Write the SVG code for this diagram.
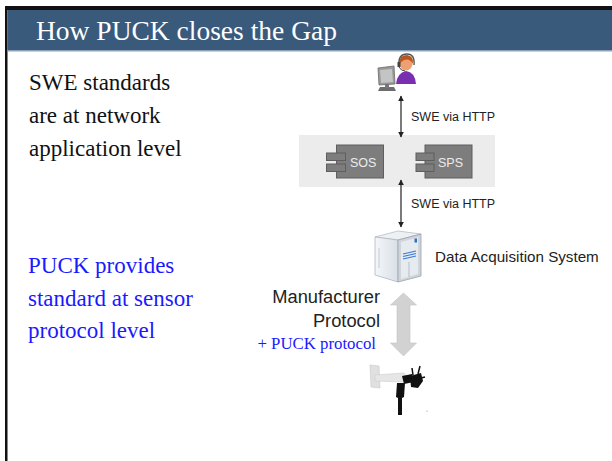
<svg xmlns="http://www.w3.org/2000/svg" width="612" height="461" viewBox="0 0 612 461">
  <style>
    .title { font-family: "Liberation Serif", "Times New Roman", serif; font-size: 27.5px; fill: #ffffff; }
    .body { font-family: "Liberation Serif", "Times New Roman", serif; font-size: 23px; fill: #111111; }
    .blue { fill: #1a1aff; }
    .lbl { font-family: "Liberation Sans", Arial, sans-serif; font-size: 12.5px; fill: #222222; }
    .big { font-family: "Liberation Sans", Arial, sans-serif; font-size: 18.3px; fill: #222222; }
    .das { font-family: "Liberation Sans", Arial, sans-serif; font-size: 15.2px; fill: #222222; }
    .comp { fill: #7d7d7d; stroke: #5e5e5e; stroke-width: 1; }
    .ctext { font-family: "Liberation Sans", Arial, sans-serif; font-size: 12.5px; fill: #ececec; }
    .link { stroke: #222222; stroke-width: 1.2; fill: none; marker-start: url(#head); marker-end: url(#head); }
  </style>
  <defs>
    <marker id="head" viewBox="0 0 10 10" refX="9" refY="5" markerWidth="6" markerHeight="8" orient="auto-start-reverse" markerUnits="userSpaceOnUse">
      <path d="M0,0 L10,5 L0,10 Z" fill="#222222"/>
    </marker>
    <linearGradient id="srvSide" x1="0" y1="0" x2="1" y2="0">
      <stop offset="0" stop-color="#f4f7fa"/>
      <stop offset="1" stop-color="#d9dfe6"/>
    </linearGradient>
  </defs>

  <!-- slide frame and header bar -->
  <rect x="0" y="0" width="612" height="461" fill="#ffffff"/>
  <rect x="5" y="6" width="607" height="4" fill="#111111"/>
  <rect x="5" y="6" width="2.5" height="455" fill="#111111"/>
  <rect x="7.5" y="10" width="604.5" height="40" fill="#3a5a7c"/>
  <rect x="7.5" y="50" width="604.5" height="1.5" fill="#8ca2b8"/>
  <text class="title" x="36" y="40">How PUCK closes the Gap</text>

  <!-- left-hand notes -->
  <g id="notes">
    <text class="body" x="29" y="90">SWE standards</text>
    <text class="body" x="29" y="123">are at network</text>
    <text class="body" x="29" y="156">application level</text>
    <text class="body blue" x="28" y="273">PUCK provides</text>
    <text class="body blue" x="28" y="306">standard at sensor</text>
    <text class="body blue" x="28" y="338">protocol level</text>
  </g>

  <!-- operator at workstation -->
  <g id="user">
    <path d="M380,87 L394,87 L396,91 L378,91 Z" fill="#6d6d6d"/>
    <rect x="385" y="82" width="4" height="6" fill="#777777"/>
    <path d="M378,68 L394,66 L395,84 L379,85 Z" fill="#9a9a9a" stroke="#6a6a6a" stroke-width="0.8"/>
    <path d="M380,70 L392,69 L393,82 L381,83 Z" fill="#c4c4c4"/>
    <path d="M396,84 Q397,73 406,71 Q415,72 416,84 Z" fill="#7a2fb0"/>
    <circle cx="406" cy="64" r="6.5" fill="#f0a070"/>
    <path d="M399,64 Q399,55 407,55 Q414,56 413,64 Q410,58 404,60 Q401,62 399,64 Z" fill="#b8561e"/>
    <path d="M399,65 Q398,54 407,54 Q415,54 414,65" fill="none" stroke="#555555" stroke-width="1.4"/>
    <rect x="397.5" y="62" width="3" height="5" fill="#444444"/>
    <path d="M399,67 Q401,71 405,71" fill="none" stroke="#444444" stroke-width="1"/>
  </g>

  <!-- service container with SOS and SPS -->
  <g id="services">
    <rect x="299" y="135" width="196" height="52" fill="#ececec"/>
  </g>
  <g id="sos">
    <rect class="comp" x="336.5" y="145" width="47" height="33"/>
    <rect class="comp" x="326.5" y="153" width="19" height="7.5"/>
    <rect class="comp" x="326.5" y="164" width="19" height="7.5"/>
    <text class="ctext" x="350" y="166.5">SOS</text>
  </g>
  <g id="sps">
    <rect class="comp" x="425" y="145" width="47" height="33"/>
    <rect class="comp" x="416" y="153" width="18" height="7.5"/>
    <rect class="comp" x="416" y="164" width="18" height="7.5"/>
    <text class="ctext" x="438" y="166.5">SPS</text>
  </g>

  <!-- data acquisition server -->
  <g id="das">
    <path d="M375,237 L398,231 L421,234 L398,240 Z" fill="#eef1f4" stroke="#b8bec6" stroke-width="0.8"/>
    <path d="M375,237 L398,240 L398,282 L375,275 Z" fill="url(#srvSide)" stroke="#b0b6bf" stroke-width="0.8"/>
    <path d="M398,240 L421,234 L421,276 L398,282 Z" fill="#d0d5dc" stroke="#9aa1aa" stroke-width="0.8"/>
    <path d="M401,242 L418,237.5 L418,274 L401,279 Z" fill="#e6ebf0"/>
    <rect x="414.5" y="238.5" width="2.5" height="4" fill="#2f6fbf"/>
    <path d="M403,254 L416,251 M403,256.5 L416,253.5 M403,259 L416,256" stroke="#3a7bd5" stroke-width="1.2"/>
    <path d="M409,262 L409,277" stroke="#aab1ba" stroke-width="0.8"/>
    <path d="M379,248 L379,268" stroke="#c7ccd3" stroke-width="1"/>
    <text class="das" x="435" y="262">Data Acquisition System</text>
  </g>

  <!-- anemometer / wind vane sensor -->
  <g id="sensor">
    <path d="M370,365 L379,366 L380,388 L371,387 Z" fill="#e0e0e0" stroke="#c8c8c8" stroke-width="0.6"/>
    <path d="M375,375 L404,373 L408,378 L404,382 L375,381 Z" fill="#e6e6e6" stroke="#cccccc" stroke-width="0.6"/>
    <path d="M402,376 L412,374 L414,382 L404,384 Z" fill="#111111"/>
    <path d="M410,376 L421,373 L423,381 L418,388 L411,387 Z" fill="#111111"/>
    <path d="M413,375 L412,368 M418,374 L420,366 M421,378 L425,377" stroke="#111111" stroke-width="1.5"/>
    <path d="M397,383 L405,383 L404,397 L402,398 L402,415 L398,415 L398,398 L396,397 Z" fill="#111111"/>
    <circle cx="427" cy="411" r="0.6" fill="#888888"/>
  </g>

  <!-- connectors -->
  <g id="connectors">
    <line class="link" x1="401" y1="96" x2="401" y2="137"/>
    <text class="lbl" x="411" y="121">SWE via HTTP</text>
    <line class="link" x1="401" y1="180" x2="401" y2="227"/>
    <text class="lbl" x="411" y="208">SWE via HTTP</text>
    <path d="M403.5,293 L416.5,305 L410,305 L410,343 L416.5,343 L403.5,356 L390.5,343 L397,343 L397,305 L390.5,305 Z" fill="#d2d2d2" stroke="#c4c4c4" stroke-width="0.6"/>
    <text class="big" x="380" y="303" text-anchor="end">Manufacturer</text>
    <text class="big" x="380" y="327" text-anchor="end">Protocol</text>
    <text class="body blue" x="376" y="349" text-anchor="end" style="font-size:16.8px">+ PUCK protocol</text>
  </g>
</svg>
